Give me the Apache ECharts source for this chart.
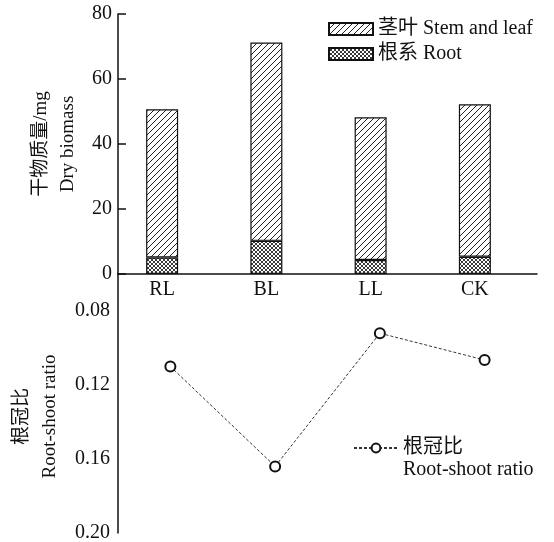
<!DOCTYPE html>
<html>
<head>
<meta charset="utf-8">
<script src="https://cdn.jsdelivr.net/npm/echarts@6/dist/echarts.min.js"></script>
<style>
  html, body { margin: 0; padding: 0; background: #fff; }
  #chart { width: 554px; height: 542px; }
</style>
</head>
<body>
<div id="chart"></div>
<script>
const categories = ['RL', 'BL', 'LL', 'CK']
const stemLeaf = [45.6, 61.0, 43.9, 46.9]
const root = [5.1, 10.2, 4.3, 5.3]
const rootShoot = [0.110, 0.164, 0.092, 0.1065]
const ratioTicks = [0.08, 0.12, 0.16, 0.20]

const font = '"Liberation Serif", "Noto Sans CJK SC", serif'
const ink = '#111'

// hatch fills for the bars
function pattern(size, cross) {
  const c = document.createElement('canvas')
  c.width = c.height = size
  const g = c.getContext('2d')
  g.fillStyle = '#fff'
  g.fillRect(0, 0, size, size)
  g.strokeStyle = '#222'
  g.lineWidth = cross ? 0.9 : 1
  g.beginPath()
  g.moveTo(0, size); g.lineTo(size, 0)
  g.moveTo(-1, 1); g.lineTo(1, -1)
  g.moveTo(size - 1, size + 1); g.lineTo(size + 1, size - 1)
  if (cross) {
    g.moveTo(0, 0); g.lineTo(size, size)
    g.moveTo(size - 1, -1); g.lineTo(size + 1, 1)
    g.moveTo(-1, size - 1); g.lineTo(1, size + 1)
  }
  g.stroke()
  return c
}

const labelStyle = { fontFamily: font, fontSize: 20, color: ink }
const nameToken = { fontFamily: font, fontSize: 19, color: ink, lineHeight: 28, padding: [0, 26, 0, 0] }

const chart = echarts.init(document.getElementById('chart'))
const option = {
  animation: false,
  textStyle: { fontFamily: font, color: ink },
  legend: [
    {
      orient: 'vertical',
      left: 328,
      top: 19,
      padding: 0,
      itemWidth: 44,
      itemHeight: 12,
      itemGap: 5,
      icon: 'rect',
      data: ['茎叶 Stem and leaf', '根系 Root'],
      textStyle: labelStyle
    },
    {
      left: 353,
      top: 415,
      padding: 0,
      itemWidth: 44,
      itemHeight: 11,
      data: ['根冠比'],
      // blank first line keeps the icon level with 根冠比
      formatter: () => '\n根冠比\nRoot-shoot ratio',
      textStyle: Object.assign({ lineHeight: 22 }, labelStyle)
    }
  ],
  grid: [
    // bars
    { left: 110, right: 27, top: 14, bottom: 268, outerBoundsMode: 'none' },
    // root-shoot ratio
    { left: 118, right: 17, top: 274, bottom: 9, outerBoundsMode: 'none' },
    // frame of the biomass panel
    { left: 118, right: 17, top: 14, bottom: 268, outerBoundsMode: 'none' }
  ],
  xAxis: [
    {
      type: 'category',
      gridIndex: 0,
      data: categories,
      axisLine: { show: false },
      axisTick: { show: false },
      axisLabel: Object.assign({ margin: 6 }, labelStyle)
    },
    {
      type: 'category',
      gridIndex: 1,
      data: categories,
      show: false
    },
    {
      type: 'value',
      gridIndex: 2,
      min: 0,
      max: 1,
      splitLine: { show: false },
      axisLine: { lineStyle: { color: ink, width: 1.5 } },
      axisTick: { show: false },
      axisLabel: { show: false }
    }
  ],
  yAxis: [
    {
      type: 'value',
      gridIndex: 0,
      min: 0,
      max: 80,
      show: false
    },
    {
      type: 'value',
      gridIndex: 1,
      inverse: true,
      min: 0.06,
      max: 0.20,
      splitLine: { show: false },
      axisLine: { show: true, onZero: false, lineStyle: { color: ink, width: 1.5 } },
      axisTick: { customValues: ratioTicks, inside: true, length: 8, lineStyle: { color: ink, width: 1.5 } },
      axisLabel: Object.assign({
        customValues: ratioTicks,
        formatter: v => v.toFixed(2),
        margin: 8
      }, labelStyle),
      name: '{a|根冠比}\n{a|Root-shoot ratio}',
      nameLocation: 'middle',
      nameRotate: 90,
      nameMoveOverlap: false,
      nameGap: 54,
      nameTextStyle: { fontFamily: font, fontSize: 19, color: ink, lineHeight: 28, rich: { a: nameToken } }
    },
    {
      type: 'value',
      gridIndex: 2,
      min: 0,
      max: 80,
      interval: 20,
      splitLine: { show: false },
      axisLine: { show: true, onZero: false, lineStyle: { color: ink, width: 1.5 } },
      axisTick: { inside: true, length: 8, lineStyle: { color: ink, width: 1.5 } },
      axisLabel: Object.assign({ margin: 6 }, labelStyle),
      name: '干物质量/mg\nDry biomass',
      nameLocation: 'middle',
      nameRotate: 90,
      nameMoveOverlap: false,
      nameGap: 36,
      nameTextStyle: { fontFamily: font, fontSize: 19, color: ink, lineHeight: 27 }
    }
  ],
  series: [
    {
      name: '根系 Root',
      type: 'bar',
      xAxisIndex: 0,
      yAxisIndex: 0,
      stack: 'biomass',
      barWidth: 32,
      itemStyle: { color: { image: pattern(4, true), repeat: 'repeat' }, borderColor: ink, borderWidth: 1.2 },
      data: root
    },
    {
      name: '茎叶 Stem and leaf',
      type: 'bar',
      xAxisIndex: 0,
      yAxisIndex: 0,
      stack: 'biomass',
      barWidth: 32,
      itemStyle: { color: { image: pattern(6, false), repeat: 'repeat' }, borderColor: ink, borderWidth: 1.2 },
      data: stemLeaf
    },
    {
      name: '根冠比',
      type: 'line',
      xAxisIndex: 1,
      yAxisIndex: 1,
      symbol: 'emptyCircle',
      symbolSize: 10,
      lineStyle: { color: '#333', width: 1, type: [3, 2] },
      itemStyle: { color: ink, borderWidth: 1.5 },
      data: rootShoot
    }
  ]
}
option && chart.setOption(option)
</script>
</body>
</html>
